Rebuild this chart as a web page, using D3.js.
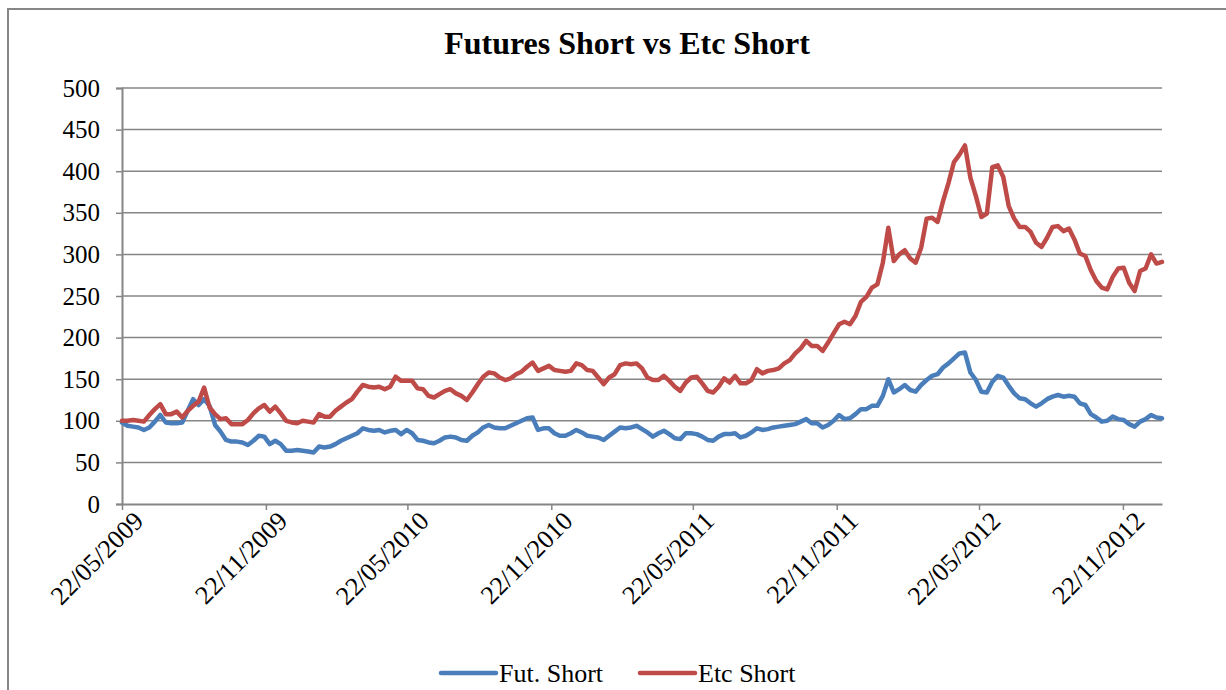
<!DOCTYPE html>
<html>
<head>
<meta charset="utf-8">
<script src="https://cdn.jsdelivr.net/npm/d3@7"></script>
<style>
  body { margin: 0; background: #fff; }
  svg { display: block; font-family: "Liberation Serif", "Times New Roman", serif; }
</style>
</head>
<body>
<svg></svg>
<script>

// weekly observations starting 22/05/2009
var startDate = "22/05/2009";

var futShort = [98, 94, 93, 92, 89, 92, 99, 107, 98, 97,
  97, 98, 112, 126, 119, 126, 118, 95, 87, 77,
  75, 75, 74, 71, 76, 82, 81, 72, 76, 72,
  64, 64, 65, 64, 63, 62, 69, 68, 69, 72,
  76, 79, 82, 85, 91, 89, 88, 89, 86, 88,
  89, 84, 89, 85, 77, 76, 74, 73, 76, 80,
  81, 80, 77, 76, 82, 86, 92, 95, 92, 91,
  91, 94, 97, 100, 103, 104, 89, 91, 91, 85,
  82, 82, 85, 89, 86, 82, 81, 80, 77, 82,
  87, 92, 91, 92, 94, 90, 86, 81, 85, 88,
  84, 79, 78, 85, 85, 84, 81, 77, 76, 81,
  84, 84, 85, 80, 82, 86, 91, 89, 90, 92,
  93, 94, 95, 96, 99, 102, 97, 97, 92, 95,
  100, 107, 102, 103, 108, 114, 114, 118, 118, 130,
  150, 134, 138, 143, 137, 135, 143, 149, 154, 156,
  164, 169, 175, 181, 182, 158, 149, 135, 134, 147,
  154, 152, 142, 133, 127, 126, 121, 117, 121, 126,
  129, 131, 129, 130, 129, 121, 119, 108, 104, 99,
  100, 105, 102, 101, 96, 93, 99, 102, 107, 104,
  103];

var etcShort = [100, 100, 101, 100, 99, 107, 114, 120, 108, 108,
  111, 104, 112, 118, 123, 140, 116, 108, 102, 103,
  96, 96, 96, 101, 109, 115, 119, 111, 117, 109,
  100, 98, 97, 100, 99, 98, 108, 105, 105, 112,
  117, 122, 126, 135, 143, 141, 140, 141, 138, 141,
  153, 148, 148, 148, 139, 138, 130, 128, 132, 136,
  138, 133, 130, 125, 134, 144, 153, 158, 157, 152,
  149, 151, 156, 159, 165, 170, 160, 163, 166, 161,
  160, 159, 160, 169, 167, 161, 160, 152, 144, 152,
  156, 167, 169, 168, 169, 163, 152, 149, 149, 154,
  148, 141, 136, 146, 152, 153, 145, 136, 134, 141,
  151, 146, 154, 145, 145, 149, 162, 157, 160, 161,
  163, 169, 173, 181, 187, 196, 190, 190, 184, 194,
  205, 216, 219, 216, 226, 243, 249, 260, 264, 290,
  332, 292, 300, 305, 295, 290, 308, 343, 344, 339,
  364, 386, 411, 420, 431, 392, 370, 345, 349, 405,
  407, 393, 358, 343, 333, 333, 327, 314, 309, 320,
  333, 334, 328, 331, 318, 301, 298, 281, 268, 260,
  258, 273, 283, 284, 266, 256, 280, 283, 300, 289,
  291];

var tickLabels = ["22/05/2009", "22/11/2009", "22/05/2010", "22/11/2010",
  "22/05/2011", "22/11/2011", "22/05/2012", "22/11/2012"];

var yTicks = [0, 50, 100, 150, 200, 250, 300, 350, 400, 450, 500];

var seriesNames = ["Fut. Short", "Etc Short"];
var seriesColors = ["#4a7ebb", "#be4b48"];

var serif = '"Liberation Serif", "Times New Roman", serif';

var svgwidth = 1226;
var svgheight = 690;

var margins = { top: 88, bottom: 186, left: 122, right: 64 };
var width = svgwidth - margins.left - margins.right;
var height = svgheight - margins.top - margins.bottom;

var parseDate = d3.timeParse("%d/%m/%Y");
var start = parseDate(startDate);
var dates = futShort.map(function(d, i){ return d3.timeDay.offset(start, i * 7); });

var svg = d3.select('svg').attr('width', svgwidth).attr('height', svgheight);

// chart frame
svg.append('rect')
   .attr('x', 8).attr('y', 9)
   .attr('width', 1240).attr('height', 700)
   .attr('fill', 'none')
   .attr('stroke', '#868686')
   .attr('stroke-width', 2);

svg.append('text')
   .attr('x', 627).attr('y', 54)
   .attr('text-anchor', 'middle')
   .attr('font-family', serif)
   .style('font-size', '32px')
   .style('font-weight', 'bold')
   .text('Futures Short vs Etc Short');

var xScale = d3.scaleTime()
               .domain([dates[0], dates[dates.length - 1]])
               .range([0, width]);

var yScale = d3.scaleLinear()
               .domain([0, 500])
               .range([height, 0]);

var plot = svg.append('g').classed('plot', true)
              .attr('transform', 'translate(' + margins.left + ',' + margins.top + ')');

// horizontal gridlines
plot.selectAll('line.grid')
    .data(yTicks.slice(1))
    .enter().append('line')
    .classed('grid', true)
    .attr('x1', 0).attr('x2', width)
    .attr('y1', function(d){ return yScale(d); })
    .attr('y2', function(d){ return yScale(d); })
    .attr('stroke', '#868686')
    .attr('stroke-width', 1.5);

var yAxis = d3.axisLeft(yScale).tickValues(yTicks).tickSize(6).tickPadding(16);
var gy = plot.append('g').classed('yAxis', true).call(yAxis)
             .attr('font-family', serif).attr('font-size', 25);
gy.select('.domain').attr('stroke', '#868686').attr('stroke-width', 2);
gy.selectAll('.tick line').attr('stroke', '#868686').attr('stroke-width', 1.5);
gy.selectAll('text').attr('fill', '#000');

var xAxis = d3.axisBottom(xScale)
              .tickValues(tickLabels.map(parseDate))
              .tickFormat(d3.timeFormat("%d/%m/%Y"))
              .tickSize(6).tickSizeOuter(0);
var gx = plot.append('g').classed('xAxis', true)
             .attr('transform', 'translate(0,' + height + ')')
             .call(xAxis)
             .attr('font-family', serif).attr('font-size', 26);
gx.select('.domain').attr('stroke', '#868686').attr('stroke-width', 2);
gx.selectAll('.tick line').attr('stroke', '#868686').attr('stroke-width', 1.5);
gx.selectAll('text')
  .attr('fill', '#000')
  .attr('text-anchor', 'end')
  .attr('dy', '0.35em')
  .attr('transform', 'translate(16,12) rotate(-45)')
  .attr('x', 0).attr('y', 0);

var line = d3.line()
             .x(function(d, i){ return xScale(dates[i]); })
             .y(function(d){ return yScale(d); });

[futShort, etcShort].forEach(function(series, k){
  plot.append('path')
      .datum(series)
      .attr('d', line)
      .attr('fill', 'none')
      .attr('stroke', seriesColors[k])
      .attr('stroke-width', 4.5)
      .attr('stroke-linejoin', 'round')
      .attr('stroke-linecap', 'round');
});

// legend
var legendX = [441, 640];
var legend = svg.append('g').classed('legend', true).attr('font-family', serif);
seriesNames.forEach(function(name, k){
  legend.append('line')
        .attr('x1', legendX[k]).attr('x2', legendX[k] + 55)
        .attr('y1', 673).attr('y2', 673)
        .attr('stroke', seriesColors[k])
        .attr('stroke-width', 4.5)
        .attr('stroke-linecap', 'round');
  legend.append('text')
        .attr('x', legendX[k] + 58).attr('y', 682)
        .style('font-size', '26px')
        .text(name);
});

</script>
</body>
</html>
